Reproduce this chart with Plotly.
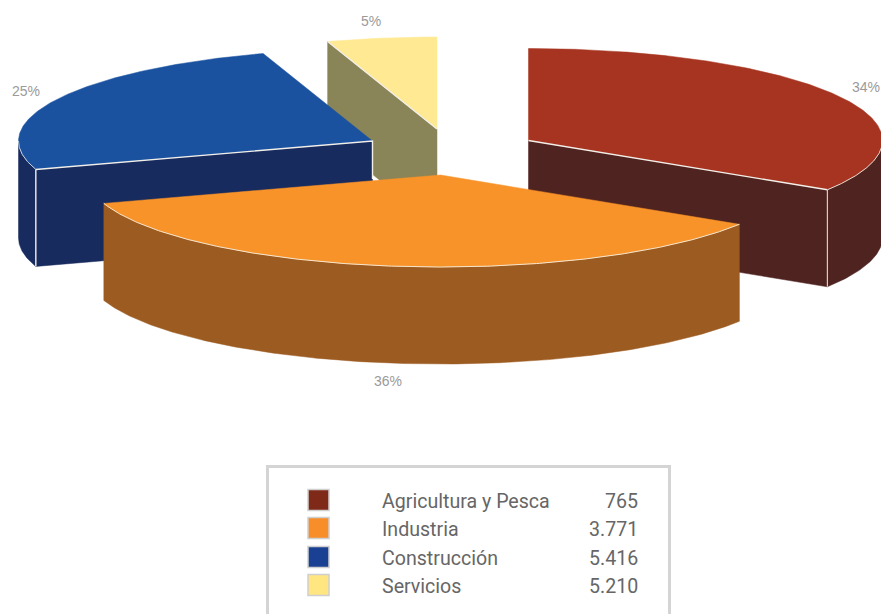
import numpy as np
import plotly.graph_objects as go

categories = ["Agricultura y Pesca", "Industria", "Construcción", "Servicios"]
shares = [34, 36, 25, 5]
legend_values = ["765", "3.771", "5.416", "5.210"]
share_labels = ["34%", "36%", "25%", "5%"]

top_colors = ["#A63420", "#F89329", "#1A52A0", "#FFE992"]
wall_colors = ["#4F2320", "#9C5B20", "#182B5E", "#8A8558"]
swatch_colors = ["#7F2A18", "#F88E2A", "#1A4094", "#FFE680"]

# pie geometry in page pixels
centers = [(528.5, 140.5), (440.5, 175), (372.5, 141), (437, 129)]
RX, RY, DEPTH = 354, 92, 97
label_pos = [(865.5, 87), (387.5, 380.5), (26, 91), (370.5, 21)]
legend_rows = [500, 528, 557, 585]

fig = go.Figure()


def rim(i, a0, a1):
    cx, cy = centers[i]
    t = np.radians(np.linspace(a0, a1, max(int(abs(a1 - a0)) * 2, 2)))
    return cx + RX * np.sin(t), cy - RY * np.cos(t)


def poly(x, y, color):
    x = list(x) + [x[0]]
    y = list(y) + [y[0]]
    fig.add_trace(go.Scatter(x=x, y=y, mode="lines", fill="toself", fillcolor=color,
                             line=dict(width=0.5, color=color), hoverinfo="skip"))


def edge(x, y, width=1.4, color="#F2EEE8"):
    fig.add_trace(go.Scatter(x=list(x), y=list(y), mode="lines",
                             line=dict(width=width, color=color), hoverinfo="skip"))


edges = np.cumsum([0] + shares) * 3.6
angles = [(edges[i], edges[i + 1]) for i in range(4)]


def top(i):
    a0, a1 = angles[i]
    x, y = rim(i, a0, a1)
    cx, cy = centers[i]
    poly([cx] + list(x), [cy] + list(y), top_colors[i])


def radial_wall(i, angle):
    cx, cy = centers[i]
    x, y = rim(i, angle, angle)
    ex, ey = x[0], y[0]
    poly([cx, ex, ex, cx], [cy, ey, ey + DEPTH, cy + DEPTH], wall_colors[i])
    return ex, ey


def rim_wall(i, a0, a1):
    x, y = rim(i, a0, a1)
    poly(list(x) + list(x[::-1]), list(y) + list((y + DEPTH)[::-1]), wall_colors[i])
    return x, y


# Servicios (back)
ex, ey = radial_wall(3, angles[3][0])
top(3)
edge([ex, centers[3][0]], [ey, centers[3][1]])

# Construcción
ex, ey = radial_wall(2, angles[2][0])
rim_wall(2, angles[2][0], 270)
top(2)
edge([ex, centers[2][0], centers[2][0]], [ey, centers[2][1], centers[2][1] + 38])
edge([ex, ex], [ey, ey + DEPTH])
x, y = rim(2, angles[2][0], 270)
edge(x, y, 1, "#C9D2E0")

# Agricultura y Pesca
ex, ey = radial_wall(0, angles[0][1])
rim_wall(0, 90, angles[0][1])
top(0)
edge([centers[0][0], ex], [centers[0][1], ey])
edge([ex, ex], [ey, ey + DEPTH], 1.2, "#D8CFC8")
x, y = rim(0, 90, angles[0][1])
edge(x, y, 1, "#E4D8D0")

# Industria (front)
x, y = rim_wall(1, angles[1][0], angles[1][1])
top(1)
edge(x, y, 1, "#F5E6D0")

# share labels
for (lx, ly), txt in zip(label_pos, share_labels):
    fig.add_annotation(x=lx, y=ly, text=txt, showarrow=False,
                       font=dict(family="Liberation Sans", size=14, color="#9A9A9A"))

# legend
fig.add_shape(type="rect", x0=267.5, x1=669.5, y0=466.5, y1=640,
              line=dict(color="#D4D4D4", width=3), fillcolor="rgba(0,0,0,0)", layer="above")
fig.add_trace(go.Scatter(x=[318.5] * 4, y=legend_rows, mode="markers",
                         marker=dict(symbol="square", size=21, color=swatch_colors,
                                     line=dict(color="#CFCFCF", width=1.5)),
                         hoverinfo="skip"))
for row, name, val in zip(legend_rows, categories, legend_values):
    fig.add_annotation(x=380, y=row + 1, text=name, xanchor="left", showarrow=False,
                       font=dict(family="Roboto", size=19.6, color="#666666"))
    fig.add_annotation(x=640, y=row + 1, text=val, xanchor="right", showarrow=False,
                       font=dict(family="Roboto", size=19.6, color="#666666"))

fig.update_layout(width=881, height=614, margin=dict(l=0, r=0, t=0, b=0),
                  paper_bgcolor="white", plot_bgcolor="white", showlegend=False,
                  xaxis=dict(range=[0, 881], visible=False, fixedrange=True),
                  yaxis=dict(range=[614, 0], visible=False, fixedrange=True))

fig.write_html("out.html", config={"displayModeBar": False},
               post_script="document.body.style.margin='0';document.documentElement.style.overflow='hidden';")
